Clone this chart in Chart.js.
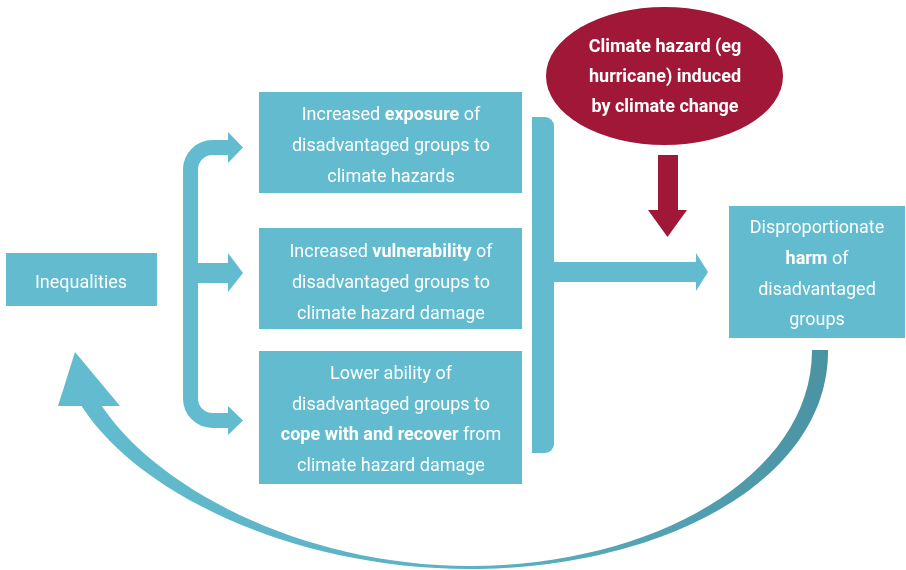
<!DOCTYPE html>
<html>
<head>
<meta charset="utf-8">
<script src="https://cdn.jsdelivr.net/npm/chart.js@4.4.1/dist/chart.umd.min.js"></script>
<style>
  html, body { margin: 0; padding: 0; background: #ffffff; }
  #wrap { width: 906px; height: 570px; }
</style>
</head>
<body>
<div id="wrap"><canvas id="diagram" width="906" height="570"></canvas></div>
<script>
// text of each node, **word** = bold
const sourceLines = ['Inequalities'];
const exposureLines = ['Increased **exposure** of', 'disadvantaged groups to', 'climate hazards'];
const vulnerabilityLines = ['Increased **vulnerability** of', 'disadvantaged groups to', 'climate hazard damage'];
const copingLines = ['Lower ability of', 'disadvantaged groups to', '**cope with and recover** from', 'climate hazard damage'];
const harmLines = ['Disproportionate', '**harm** of', 'disadvantaged', 'groups'];
const hazardLines = ['**Climate hazard (eg**', '**hurricane) induced**', '**by climate change**'];

const TEAL = '#62bbce';
const TEAL_DARK = '#4a93a3';
const RED = '#a11737';
const FONT = 'Roboto, "Open Sans", sans-serif';

// layout in diagram units (scale 0..906 x 0..570)
const boxes = [
    { lines: sourceLines, x: 6, y: 253, w: 151, h: 53, base: 288, step: 0, cx: 81 },
    { lines: exposureLines, x: 259, y: 92, w: 263, h: 101, base: 120, step: 31, cx: 391 },
    { lines: vulnerabilityLines, x: 259, y: 228, w: 263, h: 101, base: 257, step: 31, cx: 391 },
    { lines: copingLines, x: 259, y: 351, w: 263, h: 133, base: 379, step: 30.5, cx: 391 },
    { lines: harmLines, x: 729, y: 206, w: 176, h: 132, base: 233, step: 30.8, cx: 817 }
];

const DiagramPainter = {
    id: 'diagramPainter',

    afterDraw(chart) {
        const ctx = chart.ctx;
        const sx = chart.scales.x, sy = chart.scales.y;
        const X = v => sx.getPixelForValue(v);
        const Y = v => sy.getPixelForValue(v);
        ctx.save();

        // return arc from harm box back to inequalities
        const grad = ctx.createLinearGradient(X(78), 0, X(828), 0);
        grad.addColorStop(0, TEAL);
        grad.addColorStop(0.55, '#5cb0c3');
        grad.addColorStop(1, TEAL_DARK);
        ctx.fillStyle = grad;
        ctx.beginPath();
        ctx.moveTo(X(828), Y(350));
        ctx.bezierCurveTo(X(829), Y(482), X(660), Y(569), X(470), Y(569));
        ctx.bezierCurveTo(X(290), Y(569), X(130), Y(490), X(78), Y(400));
        ctx.lineTo(X(98), Y(400));
        ctx.bezierCurveTo(X(150), Y(485), X(300), Y(566), X(470), Y(566));
        ctx.bezierCurveTo(X(650), Y(566), X(812), Y(478), X(812), Y(350));
        ctx.closePath();
        ctx.fill();
        ctx.fillStyle = TEAL;
        this.poly(ctx, [[X(75), Y(352)], [X(58), Y(406)], [X(120), Y(406)]]);

        // left bracket fanning out to three boxes
        ctx.strokeStyle = TEAL;
        ctx.lineWidth = 15;
        ctx.beginPath();
        ctx.moveTo(X(229), Y(147.5));
        ctx.arcTo(X(190.5), Y(147.5), X(190.5), Y(180), 22);
        ctx.arcTo(X(190.5), Y(420.5), X(229), Y(420.5), 22);
        ctx.lineTo(X(229), Y(420.5));
        ctx.stroke();
        ctx.fillRect(X(190), Y(263), X(229) - X(190), Y(283) - Y(263));
        this.poly(ctx, [[X(228), Y(132)], [X(243), Y(147.5)], [X(228), Y(163)]]);
        this.poly(ctx, [[X(228), Y(253)], [X(243), Y(273)], [X(228), Y(292)]]);
        this.poly(ctx, [[X(228), Y(406)], [X(243), Y(420.5)], [X(228), Y(435)]]);

        // right bracket joining into harm box
        ctx.beginPath();
        ctx.roundRect(X(532), Y(117), X(554) - X(532), Y(453) - Y(117), [0, 9, 9, 0]);
        ctx.fill();
        ctx.fillRect(X(553), Y(262), X(697) - X(553), Y(282) - Y(262));
        this.poly(ctx, [[X(696), Y(253)], [X(708), Y(272)], [X(696), Y(291)]]);

        // boxes
        boxes.forEach(b => {
            ctx.fillStyle = TEAL;
            ctx.fillRect(X(b.x), Y(b.y), X(b.x + b.w) - X(b.x), Y(b.y + b.h) - Y(b.y));
            b.lines.forEach((ln, i) => this.richText(ctx, ln, X(b.cx), Y(b.base + i * b.step), 18, '#ffffff'));
        });

        // climate hazard ellipse and arrow
        ctx.fillStyle = RED;
        ctx.beginPath();
        ctx.ellipse(X(664.5), Y(76), X(118.5) - X(0), Y(69) - Y(0), 0, 0, Math.PI * 2);
        ctx.fill();
        ctx.fillRect(X(658), Y(155), X(678) - X(658), Y(211) - Y(155));
        this.poly(ctx, [[X(648), Y(210)], [X(687), Y(210)], [X(667.5), Y(237)]]);
        hazardLines.forEach((ln, i) => this.richText(ctx, ln, X(665), Y(52 + i * 30), 18, '#ffffff'));

        ctx.restore();
    },

    poly(ctx, pts) {
        ctx.beginPath();
        pts.forEach((p, i) => (i ? ctx.lineTo(p[0], p[1]) : ctx.moveTo(p[0], p[1])));
        ctx.closePath();
        ctx.fill();
    },

    richText(ctx, line, cx, baseY, size, color) {
        const parts = line.split('**').map((t, i) => ({ t, bold: i % 2 === 1 })).filter(p => p.t.length);
        let total = 0;
        parts.forEach(p => {
            ctx.font = (p.bold ? 'bold ' : '') + size + 'px ' + FONT;
            p.w = ctx.measureText(p.t).width;
            total += p.w;
        });
        let x = cx - total / 2;
        ctx.fillStyle = color;
        ctx.textBaseline = 'alphabetic';
        ctx.textAlign = 'left';
        parts.forEach(p => {
            ctx.font = (p.bold ? 'bold ' : '') + size + 'px ' + FONT;
            ctx.fillText(p.t, x, baseY);
            x += p.w;
        });
    }
};

new Chart(document.getElementById('diagram').getContext('2d'), {
    type: 'scatter',
    data: { datasets: [{ data: [], showLine: false }] },
    options: {
        responsive: false,
        animation: false,
        devicePixelRatio: 1,
        layout: { padding: 0 },
        plugins: { legend: { display: false }, tooltip: { enabled: false } },
        scales: {
            x: { type: 'linear', min: 0, max: 906, display: false },
            y: { type: 'linear', min: 0, max: 570, reverse: true, display: false }
        }
    },
    plugins: [DiagramPainter]
});
</script>
</body>
</html>
